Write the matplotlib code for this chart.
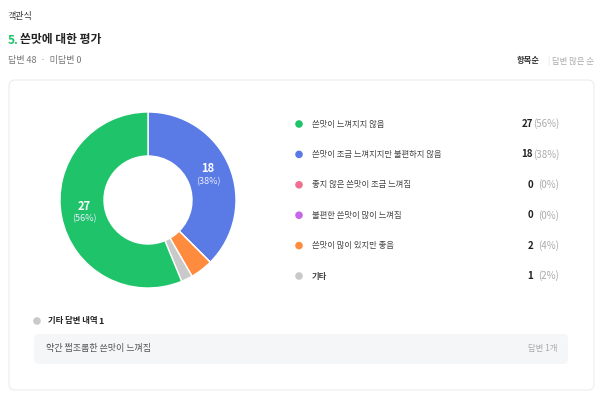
import matplotlib
matplotlib.use('Agg')
import matplotlib.pyplot as plt
from matplotlib.patches import FancyBboxPatch
import numpy as np

plt.rcParams['font.family'] = ['Noto Sans CJK KR', 'DejaVu Sans']

# Data
labels = ['쓴맛이 느껴지지 않음', '쓴맛이 조금 느껴지지만 불편하지 않음', '좋지 않은 쓴맛이 조금 느껴짐',
          '불편한 쓴맛이 많이 느껴짐', '쓴맛이 많이 있지만 좋음', '기타']
counts = [27, 18, 0, 0, 2, 1]
colors = ['#1fc46a', '#5a7be6', '#f2708f', '#c866ea', '#ff8c3e', '#c9c9c9']
draw_order = [1, 2, 3, 4, 5, 0]   # clockwise from the top, as on the donut
total = sum(counts)
pcts = [round(c / total * 100) for c in counts]

other_title = '기타 답변 내역'
other_answers = ['약간 쩝조롬한 쓴맛이 느껴짐']
other_answer_counts = [1]

fig = plt.figure(figsize=(6, 4), dpi=100)
fig.patch.set_facecolor('white')

# page overlay in pixel coordinates
bg = fig.add_axes([0, 0, 1, 1])
bg.set_xlim(0, 600)
bg.set_ylim(400, 0)
bg.axis('off')

bg.text(8, 17, '객관식', fontsize=6.5, color='#333333', va='center')
bg.text(8, 40, '5.', fontsize=8.5, color='#1fc46a', fontweight='bold', va='center')
bg.text(20, 40, '쓴맛에 대한 평가', fontsize=8.5, color='#222222', fontweight='bold', va='center')
bg.text(8, 61, f'답변 {total}  ·  미답변 0', fontsize=6.5, color='#777777', va='center')
bg.text(540, 61, '항목순', fontsize=6, color='#333333', fontweight='bold', va='center', ha='right')
bg.text(548, 61, '|', fontsize=6, color='#dddddd', va='center', ha='center')
bg.text(594, 61, '답변 많은 순', fontsize=6, color='#aaaaaa', va='center', ha='right')

card = FancyBboxPatch((9, 80), 585, 310, boxstyle='round,pad=0,rounding_size=6',
                      facecolor='white', edgecolor='#ececec', linewidth=0.8)
bg.add_patch(card)

# legend rows
for row, i in enumerate(range(len(labels))):
    y = 124 + row * 30.4
    bg.scatter([299], [y], s=30, color=colors[i], edgecolors='none')
    bg.text(312, y, labels[i], fontsize=6, color='#444444', va='center',
            fontweight='bold' if labels[i] == '기타' else 'normal')
    bg.text(533, y, str(counts[i]), fontsize=7, color='#222222', fontweight='bold', va='center', ha='right')
    bg.text(559, y, f'({pcts[i]}%)', fontsize=7, color='#aaaaaa', va='center', ha='right')

# other answers box
bg.scatter([37], [321], s=30, color='#c9c9c9', edgecolors='none')
bg.text(48, 321, f'{other_title} ', fontsize=6, color='#222222', fontweight='bold', va='center')
bg.text(98, 321, str(len(other_answers)), fontsize=6.5, color='#222222', fontweight='bold', va='center')
box = FancyBboxPatch((34, 334), 534, 30, boxstyle='round,pad=0,rounding_size=5',
                     facecolor='#f5f6f8', edgecolor='none')
bg.add_patch(box)
for k, (ans, n) in enumerate(zip(other_answers, other_answer_counts)):
    bg.text(46, 349 + k * 30, ans, fontsize=6.5, color='#555555', va='center')
    bg.text(557, 349 + k * 30, f'답변 {n}개', fontsize=6, color='#aaaaaa', va='center', ha='right')

# donut
cx, cy, r = 148, 200, 88
ax = fig.add_axes([(cx - r) / 600, (400 - cy - r) / 400, 2 * r / 600, 2 * r / 400])
vals = [counts[i] for i in draw_order]
cols = [colors[i] for i in draw_order]
wedges, _ = ax.pie(vals, colors=cols, startangle=90, counterclock=False, radius=1,
                   wedgeprops=dict(width=0.5, edgecolor='white', linewidth=1))
ax.set_xlim(-1, 1)
ax.set_ylim(-1, 1)
ax.set_aspect('equal')
ax.axis('off')

for w, i in zip(wedges, draw_order):
    if counts[i] / total < 0.1:
        continue
    ang = np.deg2rad((w.theta1 + w.theta2) / 2)
    x, y = 0.74 * np.cos(ang), 0.74 * np.sin(ang)
    ax.text(x, y + 0.07, str(counts[i]), fontsize=8, color='white', fontweight='bold',
            ha='center', va='center')
    ax.text(x, y - 0.07, f'({pcts[i]}%)', fontsize=6.5, color='#e8ecff', ha='center', va='center')

fig.savefig('out.png', dpi=100, facecolor='white')
